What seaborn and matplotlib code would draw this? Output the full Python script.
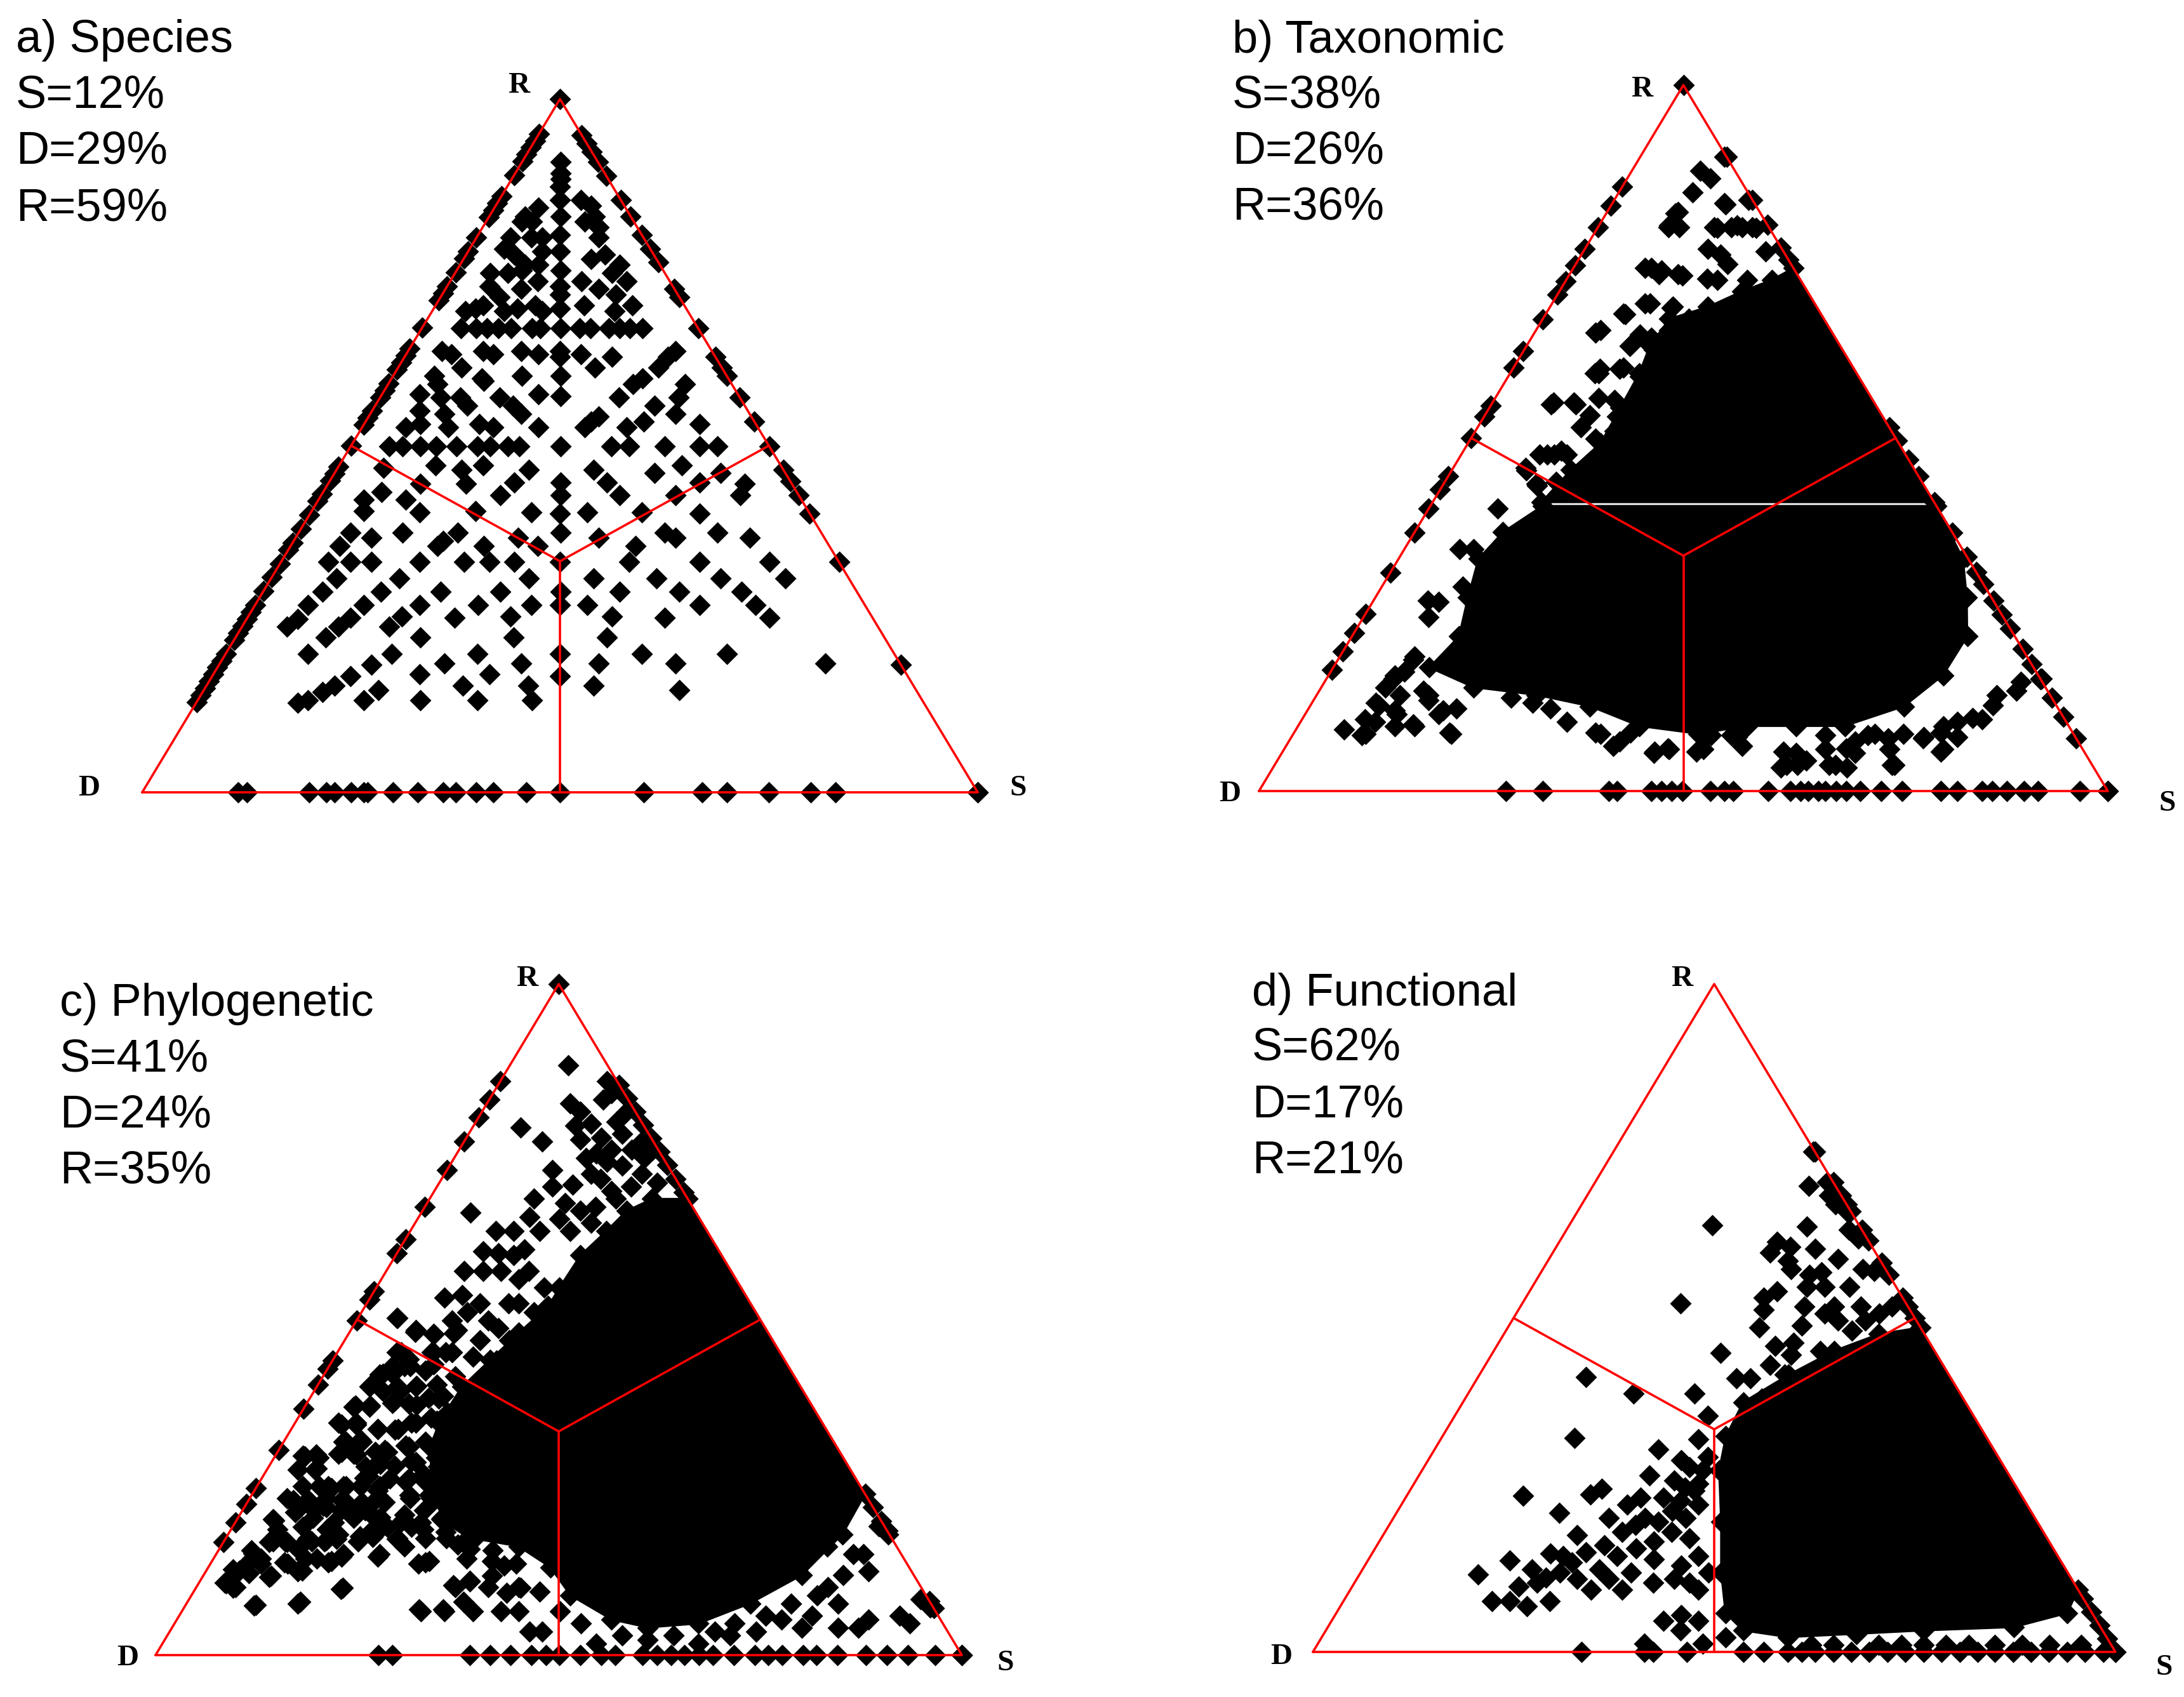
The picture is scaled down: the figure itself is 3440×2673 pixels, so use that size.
import numpy as np
import pandas as pd
import seaborn as sns
import matplotlib.pyplot as plt

sns.set_theme(style="white")
plt.rcParams['font.family'] = ['Liberation Sans', 'DejaVu Sans']

# ---------------- data (percent S, R; D = 100 - S - R) ----------------
titles = ["a) Species", "b) Taxonomic", "c) Phylogenetic", "d) Functional"]
summary_S = [12, 38, 41, 62]
summary_D = [29, 26, 24, 17]
summary_R = [59, 36, 35, 21]

# a) Species - interior points (S, R)
a_pts = [
    (4.6, 90.9), (5.4, 89.3), (5.8, 88.5), (6.3, 87.4), (7.3, 85.4), (8.5, 83.1), (9.8, 80.4), (11.0, 78.0),
    (12.4, 75.3), (13.5, 73.0), (14.1, 71.8), (15.1, 69.8), (16.6, 66.9), (18.2, 63.6), (18.6, 62.8), (20.0, 60.1),
    (21.5, 57.1), (25.1, 49.9), (27.7, 44.7), (28.6, 42.9), (29.9, 40.2), (31.3, 37.5), (33.4, 33.2), (35.6, 28.9),
    (36.5, 27.0), (40.0, 20.0), (41.6, 16.8),
    (9.8, 85.4), (11.4, 84.6), (5.3, 84.3), (4.3, 83.1), (4.3, 82.3), (5.5, 82.3), (11.8, 82.3), (12.6, 83.1),
    (13.9, 81.5), (6.6, 80.0), (7.9, 80.0), (4.1, 80.0), (14.6, 80.0), (16.6, 77.6), (4.1, 78.4), (5.7, 77.6),
    (8.9, 78.0), (7.8, 76.1), (9.4, 76.1), (15.3, 76.9), (19.1, 76.1), (4.2, 74.9), (6.3, 74.9), (7.8, 75.3),
    (10.5, 73.7), (15.7, 73.7), (21.1, 73.7), (18.8, 74.9), (5.1, 73.0), (9.1, 72.6), (18.3, 72.6), (5.7, 70.2),
    (7.1, 71.4), (4.0, 69.4), (5.0, 69.8), (8.6, 69.4), (10.0, 69.8), (11.9, 70.2), (13.2, 69.4), (17.8, 70.2),
    (21.8, 69.4), (23.6, 70.2), (20.8, 71.8),
    (4.7, 66.9), (6.5, 66.9), (7.8, 66.9), (9.2, 66.9), (10.7, 66.9), (13.2, 66.9), (14.2, 66.9), (18.9, 66.9),
    (20.2, 66.9), (22.4, 66.9), (23.7, 66.9), (24.9, 66.9), (26.4, 66.9),
    (4.1, 63.6), (5.4, 63.2), (7.6, 61.3), (9.0, 63.6), (10.4, 63.2), (13.6, 63.6), (15.8, 63.2), (20.9, 63.2),
    (24.8, 62.8), (32.0, 63.6), (31.5, 62.8), (31.1, 61.3), (23.5, 61.3), (15.4, 60.1), (10.8, 59.7), (4.9, 60.1),
    (5.9, 58.9),
    (4.5, 57.4), (7.2, 57.0), (9.6, 57.0), (11.0, 55.8), (11.2, 59.3), (14.3, 57.0), (16.5, 55.8), (18.1, 54.6),
    (18.7, 57.4), (21.1, 52.7), (26.6, 52.7), (27.0, 53.5), (27.5, 54.2), (28.6, 57.0), (29.3, 58.9), (30.0, 59.7),
    (33.4, 55.8), (36.5, 54.6), (35.7, 57.0), (35.5, 58.9), (5.2, 52.7), (6.7, 53.1), (5.7, 55.0), (10.3, 52.7),
    (8.9, 54.6), (13.8, 53.1), (15.7, 52.7), (31.6, 52.7), (33.3, 53.5), (40.2, 53.1),
    (4.6, 49.9), (6.2, 49.9), (8.3, 49.9), (10.2, 49.9), (12.7, 49.9), (15.2, 49.9), (16.7, 49.9), (18.8, 49.9),
    (20.2, 49.9), (31.2, 49.9), (33.3, 49.9), (37.6, 49.9), (41.8, 49.9), (43.9, 49.9),
    (5.5, 46.8), (11.5, 47.2), (15.0, 46.5), (17.2, 47.2), (23.0, 46.5), (30.8, 46.5), (38.3, 46.1), (41.0, 47.2),
    (44.4, 44.7), (46.2, 46.1), (49.9, 44.5), (50.1, 42.9), (7.0, 43.3), (5.4, 42.2), (6.2, 40.6), (10.4, 42.2),
    (11.0, 44.5), (16.5, 44.5), (21.4, 42.9), (22.2, 44.7), (33.3, 44.7), (35.7, 42.9), (42.4, 42.9), (46.6, 40.2),
    (39.6, 40.4), (33.1, 40.4), (26.4, 40.4), (19.6, 40.6), (13.0, 40.4),
    (6.2, 37.5), (9.1, 36.7), (12.4, 37.5), (17.6, 35.5), (17.9, 36.3), (19.0, 37.5), (23.1, 35.5), (26.6, 36.7),
    (29.6, 35.5), (36.3, 36.7), (41.3, 35.5), (43.8, 37.5), (45.5, 36.7), (50.1, 37.5), (54.4, 36.7), (5.7, 33.2),
    (8.3, 33.2), (10.8, 33.2), (5.9, 35.5), (16.6, 33.2), (21.9, 33.2), (25.0, 33.2), (27.9, 33.2), (41.7, 33.2),
    (50.1, 33.2), (58.5, 33.2),
    (7.8, 30.9), (15.3, 30.9), (30.8, 30.9), (38.6, 30.9), (46.1, 30.9), (53.8, 30.9), (61.5, 30.9), (7.1, 28.9),
    (14.1, 28.9), (21.3, 28.9), (28.4, 28.9), (42.7, 28.9), (49.8, 28.9), (57.3, 28.9), (6.3, 27.0), (13.0, 27.0),
    (19.7, 27.0), (26.7, 27.0), (33.1, 27.0), (39.8, 27.0), (53.2, 27.0), (59.9, 27.0), (5.4, 23.9), (6.1, 25.0),
    (10.8, 22.3), (11.5, 23.9), (12.3, 25.2), (17.6, 23.9), (18.4, 25.4), (24.8, 25.2), (31.4, 25.4), (43.5, 25.4),
    (49.9, 25.2), (62.5, 25.2), (22.1, 22.3), (33.3, 22.3), (44.5, 22.3),
    (9.8, 20.0), (19.9, 20.0), (30.1, 20.0), (49.8, 20.0), (60.0, 20.0), (72.5, 18.6), (18.2, 18.4), (26.9, 18.6),
    (36.1, 18.6), (45.3, 18.6), (54.5, 18.6), (16.5, 16.8), (24.7, 17.0), (33.1, 17.0), (15.3, 15.4), (14.3, 14.5),
    (20.9, 14.7), (30.7, 15.4), (38.5, 15.4), (46.3, 15.4), (56.9, 14.7), (12.2, 12.9), (13.2, 13.3), (19.9, 13.3),
    (26.6, 13.3), (33.5, 13.3), (40.0, 13.3),
]
a_left_R = [13, 14, 15, 16, 17, 18, 19, 20, 22, 23, 24, 25, 26, 27, 29, 31, 33, 35, 36, 38, 40, 42, 43, 45, 46,
            47, 50, 53, 54, 55, 57, 58, 59, 61, 62, 63, 64, 67, 71, 72, 73, 75, 77, 78, 80, 83, 84, 85, 86, 89,
            91, 92, 93, 94, 95, 100]
a_right_R = [94.8, 93.6, 92.4, 90.9, 88.9, 85.4, 83.1, 80.4, 78.4, 76.5, 72.6, 71.4, 66.9, 62.8, 61.3, 60.1,
             57.0, 53.5, 49.9, 46.5, 44.9, 42.9, 40.2, 33.2, 18.4, 0]
a_bottom_S = [11.5, 12.5, 20, 22, 23, 25, 26.5, 27, 30, 33, 36, 37.5, 40, 42, 46, 50, 60, 67, 70, 75, 80, 83, 100]
a_dense = []

# b) Taxonomic
b_pts = [
    (9.9, 89.8), (8.0, 87.9), (9.8, 86.8), (8.7, 84.8), (13.2, 83.3), (15.8, 83.7), (8.2, 81.8), (8.3, 79.9),
    (9.6, 79.9), (13.7, 79.9), (15.7, 79.9), (17.0, 79.9), (18.2, 79.9), (16.4, 76.0), (21.5, 76.4), (9.2, 74.1),
    (10.6, 73.7), (13.4, 73.0), (16.5, 72.6), (10.9, 69.1), (14.4, 68.4), (9.1, 67.6), (7.2, 64.9), (12.2, 63.0),
    (14.1, 64.2), (12.9, 60.0), (10.4, 59.2), (7.2, 55.0), (9.6, 55.0), (12.2, 55.7), (15.6, 53.1), (9.2, 47.7),
    (10.9, 47.7), (8.5, 45.8), (10.9, 43.5), (8.1, 40.0), (6.5, 34.3), (8.1, 34.3), (11.5, 33.2), (6.4, 27.0),
    (8.9, 18.6), (7.9, 15.9), (9.8, 13.6), (13.5, 12.9), (8.1, 12.1), (7.4, 10.2), (5.7, 8.7), (8.2, 7.9),
    (8.8, 9.8), (10.8, 10.9), (13.5, 9.4), (18.3, 8.3), (15.7, 10.9), (17.4, 11.7), (23.1, 13.2), (26.0, 12.5),
    (28.5, 11.7), (31.4, 9.8), (35.5, 8.3), (38.5, 6.4), (39.6, 8.3), (43.8, 5.6), (45.2, 6.0), (48.7, 5.6),
    (49.3, 7.9), (53.7, 6.4), (51.7, 7.9), (59.0, 5.6), (59.8, 3.3), (61.6, 3.7), (65.3, 3.7), (67.6, 3.3),
    (66.2, 6.0), (62.8, 7.9), (67.8, 7.9), (70.4, 7.5), (72.7, 3.7), (74.5, 7.5), (76.2, 8.3), (77.5, 5.6),
    (77.4, 9.8), (80.1, 10.2), (80.4, 12.1), (82.0, 15.5), (84.3, 15.9),
    (60.3, 3.7), (60.6, 5.4), (66.1, 3.7), (67.5, 5.4), (73.0, 3.7), (74.5, 7.6), (77.7, 5.9), (78.5, 7.6),
    (78.9, 10.3), (80.1, 13.6), (82.1, 14.2), (84.2, 15.8), (7.5, 12.5), (10.3, 11.4), (13.7, 9.2), (18.6, 8.1),
    (13.2, 13.6), (7.8, 16.4), (8.8, 19.1), (7.7, 24.6), (7.8, 26.8), (9.5, 29.0), (7.0, 54.8), (9.9, 54.8),
    (10.0, 59.2), (7.6, 65.3), (9.4, 67.5), (10.1, 47.7), (11.5, 48.2), (8.8, 45.4), (11.1, 43.3),
    (8.4, 74.1), (10.5, 73.2), (12.8, 73.2), (11.5, 69.1), (14.5, 68.6), (12.5, 64.7), (15.7, 65.3), (17.2, 66.9),
    (12.2, 63.1), (15.3, 62.5), (12.6, 59.8), (15.5, 58.7), (17.0, 60.3), (10.3, 59.8), (12.4, 53.2), (14.2, 55.4),
    (17.1, 54.3), (12.2, 51.5), (14.7, 49.9), (16.4, 51.0), (12.4, 47.7), (15.7, 46.6), (17.8, 47.1), (13.1, 43.8),
    (15.1, 44.4), (17.4, 44.4), (19.8, 45.5), (8.3, 80.1), (14.1, 79.8), (16.3, 80.1), (18.7, 79.8), (13.4, 83.1),
    (8.4, 82.0), (14.5, 76.8), (17.9, 74.6), (21.3, 72.4), (17.8, 72.4),
    (36.2, 8.1), (39.0, 7.0), (43.8, 5.4), (45.4, 5.9), (49.4, 5.9), (48.9, 8.1), (52.5, 7.6), (62.3, 4.3),
    (63.8, 5.9), (66.7, 7.0), (68.5, 8.1), (71.3, 5.9), (71.9, 8.1), (76.0, 9.2),
    (7.5, 14.7), (8.7, 16.9), (12.3, 14.2), (16.0, 11.4), (11.4, 9.2), (8.5, 8.1),
]
b_left_R = [85.6, 82.9, 79.9, 76.8, 74.5, 72.2, 70.3, 66.8, 62.3, 60.0, 54.6, 53.1, 50.0, 44.6, 42.7, 40.0,
            36.6, 30.9, 25.1, 22.4, 19.8, 17.2, 100]
b_right_R = [89.8, 83.7, 80.2, 77.0, 75.3, 51.5, 49.6, 46.9, 44.6, 36.6, 33.2, 31.0, 29.3, 27.0, 25.0, 23.0,
             20.1, 18.0, 15.9, 13.2, 10.5, 7.5, 0]
b_bottom_S = [29.1, 33.4, 41.2, 42.2, 46.2, 47.4, 48.6, 49.9, 53.2, 54.8, 55.9, 60.0, 62.6, 63.8, 64.7, 65.9,
              66.7, 68.0, 69.2, 70.8, 73.3, 75.8, 80.3, 82.3, 85.2, 86.4, 88.1, 90.1, 91.8, 96.7, 100]
# solid black parts of the cloud (outline, S, R)
b_dense = [
    [(25.9, 74.1), (59.1, 40.9), (12.8, 40.9), (14.0, 45.5), (15.6, 49.3), (15.4, 54.3), (15.2, 59.2),
     (14.5, 63.1), (14.9, 66.9), (18.6, 68.6), (21.5, 70.8), (24.2, 72.4)],
    [(59.6, 40.4), (66.5, 32.9), (69.7, 27.4), (72.5, 21.9), (72.4, 16.4), (70.0, 12.0), (64.4, 9.2),
     (58.7, 9.2), (52.9, 9.2), (47.7, 8.1), (40.2, 9.2), (33.0, 12.0), (25.9, 13.6), (17.9, 14.7),
     (11.3, 17.5), (12.6, 21.9), (10.9, 27.4), (9.4, 32.9), (10.4, 36.7), (13.2, 40.4)],
]

# c) Phylogenetic
c_pts = [
    (7.2, 87.9), (13.2, 85.5), (14.1, 82.8), (10.3, 82.2), (12.2, 81.0), (6.0, 78.6), (9.7, 76.5), (12.6, 78.9),
    (14.4, 79.2), (17.4, 79.5), (17.9, 81.0), (14.3, 76.8), (17.3, 74.7), (19.2, 73.5), (21.4, 75.3), (23.6, 74.1),
    (13.1, 72.3), (16.7, 70.1), (18.2, 71.7), (14.3, 69.8), (21.9, 69.2), (24.1, 69.8), (12.9, 68.0), (17.1, 67.4),
    (6.1, 65.9), (13.7, 65.3), (10.6, 63.2), (12.8, 63.2), (16.0, 63.2), (10.5, 60.2), (12.6, 59.9), (15.5, 60.5),
    (9.7, 57.2), (12.0, 57.2), (14.2, 57.2), (17.0, 56.0), (9.2, 53.3), (11.2, 53.6), (14.0, 52.4), (17.6, 52.4),
    (11.8, 49.9), (13.1, 51.1), (16.3, 49.9), (4.9, 50.2), (8.1, 48.4), (10.6, 47.8), (13.2, 48.4), (16.8, 46.9),
    (20.4, 46.9), (7.9, 45.1), (11.7, 45.1), (14.2, 45.1), (17.1, 44.5), (20.3, 43.9), (6.9, 41.8), (7.9, 43.0),
    (10.1, 43.0), (12.3, 42.4), (16.4, 41.5), (6.5, 40.0), (10.0, 40.0), (12.3, 40.0), (14.7, 40.3), (6.1, 37.0),
    (8.0, 37.0), (10.6, 37.6), (13.7, 37.3), (16.0, 38.2), (5.4, 34.6), (7.6, 34.6), (10.7, 33.7), (13.2, 33.7),
    (15.0, 34.6), (17.4, 34.9), (19.7, 35.5), (7.4, 31.8), (9.7, 31.8), (13.1, 30.6), (15.4, 31.2), (17.6, 31.8),
    (19.9, 32.4), (21.5, 33.1), (3.4, 29.7), (5.5, 29.4), (7.7, 30.0), (9.6, 30.0), (13.1, 28.2), (15.6, 28.2),
    (17.9, 28.8), (20.1, 29.4), (22.7, 29.4), (3.8, 27.6), (6.0, 27.6), (8.8, 25.2), (10.7, 25.2), (12.7, 26.4),
    (15.2, 25.2), (18.1, 25.8), (20.6, 25.8), (22.9, 26.4), (4.6, 23.4), (7.4, 23.1), (9.7, 22.2), (11.5, 23.1),
    (14.2, 22.8), (17.0, 22.8), (19.9, 23.4), (22.5, 23.4), (25.0, 23.4), (4.7, 20.1), (6.7, 21.3), (9.3, 20.4),
    (12.2, 19.8), (14.4, 20.4), (17.0, 20.4), (20.5, 19.8), (23.0, 19.8), (25.3, 20.4), (28.1, 19.8), (4.1, 15.6),
    (5.7, 16.8), (7.9, 16.8), (10.2, 17.4), (12.6, 17.1), (13.7, 18.0), (16.5, 17.7), (18.2, 18.0), (21.3, 17.4),
    (24.8, 17.4), (27.4, 17.4), (30.8, 17.1), (34.0, 15.6), (3.2, 12.8), (4.6, 13.8), (5.9, 14.4), (9.1, 13.8),
    (11.4, 14.4), (14.5, 13.8), (15.8, 15.0), (20.3, 15.0), (26.6, 13.8), (31.4, 14.4), (3.4, 10.7), (4.9, 10.1),
    (8.3, 11.6), (11.4, 12.5), (18.1, 9.8), (8.5, 7.4), (13.8, 7.7), (29.7, 6.5), (32.6, 6.5), (32.1, 10.1),
    (33.5, 11.0), (36.2, 10.1), (39.6, 6.5), (36.1, 6.5), (41.8, 6.5), (40.0, 10.1), (42.9, 9.5), (44.6, 3.5),
    (46.2, 3.5), (46.9, 6.5),
    (80.1, 19.2), (81.9, 18.0), (80.3, 15.0), (82.2, 12.5), (78.3, 10.1), (80.8, 7.7), (78.5, 5.9), (75.0, 5.3),
    (78.1, 4.1), (72.7, 3.5), (69.8, 2.9), (90.7, 8.3), (92.5, 7.1), (89.3, 5.9), (91.2, 4.7), (85.8, 5.3),
    (85.1, 4.1), (82.6, 4.1),
    (50.4, 4.7), (53.8, 1.7), (56.4, 2.9), (59.9, 2.3), (62.8, 2.9), (66.5, 1.7), (67.6, 3.5), (69.5, 4.7),
    (72.7, 5.9), (75.0, 7.7), (77.6, 8.9), (79.3, 11.9), (79.0, 15.0), (75.2, 16.2),
    (14.7, 83.7), (19.0, 77.7), (16.7, 77.1), (18.9, 75.3), (22.1, 76.5), (24.0, 75.3), (16.3, 74.1), (19.7, 71.0),
    (21.4, 72.9), (24.5, 71.7), (27.0, 70.4), (23.1, 68.0), (21.2, 66.8), (19.6, 66.2), (17.6, 65.0), (19.8, 63.2),
    (21.8, 64.4), (14.6, 59.6), (17.7, 57.2), (20.8, 54.8), (18.8, 52.4), (21.4, 51.1), (18.2, 48.7), (21.0, 48.1),
    (22.5, 43.9), (20.5, 41.5), (20.4, 39.1), (19.7, 37.9),
    # left lobe, read from a closer view
    (4.8, 50.2), (8.1, 48.2), (10.5, 47.9), (13.0, 48.0), (7.4, 45.1), (9.4, 44.1), (9.4, 43.0), (7.2, 41.9),
    (8.4, 41.9), (11.9, 45.1), (13.4, 45.1), (12.8, 43.3), (6.6, 40.1), (8.5, 39.4), (10.6, 39.4), (12.3, 40.1),
    (6.2, 37.2), (8.0, 37.2), (10.7, 37.9), (12.7, 37.5), (14.7, 38.3), (16.4, 38.6), (5.9, 34.3), (7.7, 34.3),
    (10.7, 33.7), (12.9, 33.6), (14.4, 34.6), (16.5, 35.4), (18.2, 36.1), (7.7, 31.8), (9.4, 32.1), (7.9, 30.3),
    (9.9, 29.9), (12.1, 30.3), (13.6, 30.3), (15.9, 31.0), (17.3, 28.9), (19.9, 31.0), (21.7, 30.3), (3.7, 29.6),
    (5.0, 29.9), (6.1, 27.8), (12.0, 28.1), (13.6, 28.5), (13.0, 26.7), (15.9, 26.3), (18.3, 26.3), (19.7, 27.0),
    (21.0, 28.1), (5.7, 25.2), (7.7, 25.2), (9.4, 24.9), (11.0, 25.2), (12.8, 25.2), (15.3, 24.5), (5.5, 23.1),
    (7.3, 23.1), (9.5, 23.4), (11.8, 23.1), (14.3, 22.3), (15.7, 23.1), (19.6, 23.8), (22.0, 23.8), (23.2, 24.9),
    (6.6, 22.0), (8.9, 21.6), (10.2, 22.0), (12.2, 21.6), (13.6, 21.3), (15.2, 21.6), (17.6, 20.5), (20.4, 20.9),
    (22.5, 21.6), (25.3, 20.2), (27.2, 20.5), (4.5, 20.2), (5.8, 18.7), (8.7, 19.1), (11.9, 18.7), (17.6, 18.7),
    (19.2, 19.1), (22.2, 19.1), (23.9, 18.7), (6.1, 16.9), (7.6, 16.9), (9.7, 15.8), (10.9, 16.9), (12.5, 16.9),
    (13.8, 17.3), (16.7, 16.9), (18.1, 17.6), (21.3, 17.3), (22.8, 16.2), (26.8, 18.4), (29.2, 16.5), (31.1, 15.8),
    (4.6, 15.1), (6.3, 13.6), (4.1, 12.6), (5.5, 12.2), (8.4, 11.8), (9.6, 13.6), (11.9, 12.6), (12.8, 14.4),
    (14.8, 14.0), (15.7, 14.7), (20.2, 14.7), (25.8, 13.6), (26.9, 14.0), (34.7, 14.0), (36.6, 13.3), (37.9, 13.6),
    (3.2, 10.8), (4.6, 10.0), (8.7, 7.5), (14.0, 7.9), (18.2, 10.0), (31.7, 10.4), (33.4, 11.1), (35.8, 11.8),
    (38.9, 9.3), (40.3, 10.0), (29.3, 6.8), (32.3, 6.8), (34.2, 7.9),
]
c_left_R = [85.5, 82.8, 80.1, 76.5, 72.3, 66.8, 62.0, 59.9, 54.2, 53.0, 49.9, 43.9, 42.7, 40.3, 36.7, 30.6,
            24.9, 22.5, 19.8, 16.8, 100]
c_right_R = [85, 83, 81, 79, 77, 75, 73, 71, 69, 22, 20, 18.5, 8, 7, 0]
c_bottom_S = [27.6, 29.4, 39.0, 41.5, 44.0, 46.6, 48.4, 50.1, 52.7, 55.3, 57.0, 60.4, 62.2, 63.9, 65.6, 67.4,
              69.1, 71.7, 74.3, 76.0, 77.7, 80.3, 82.0, 84.6, 88.1, 90.7, 93.3, 96.7, 100]
c_dense = [
    [(27.6, 68.0), (32.0, 68.0), (76.0, 24.0), (76.2, 18.0), (74.2, 11.9), (69.9, 7.7), (65.0, 4.7),
     (59.0, 4.1), (53.9, 5.3), (47.0, 8.9), (42.4, 13.1), (36.9, 16.2), (30.0, 17.5), (26.5, 19.5),
     (23.0, 23.0), (21.0, 26.5), (18.5, 31.0), (17.8, 35.0), (18.0, 40.0), (19.5, 44.0), (21.0, 48.0),
     (22.7, 52.0), (22.7, 54.8), (22.9, 59.6), (24.3, 63.2), (25.3, 66.2)],
]

# d) Functional
d_pts = [
    (24.9, 74.9), (26.9, 69.8), (28.9, 70.3), (30.2, 68.3), (31.6, 67.0), (33.5, 66.0), (17.8, 63.9), (29.7, 63.7),
    (35.2, 63.2), (37.0, 61.9), (27.1, 61.4), (27.1, 59.8), (29.2, 60.6), (32.4, 60.4), (36.0, 58.8), (29.9, 58.6),
    (30.9, 57.3), (33.6, 56.5), (35.0, 56.8), (39.9, 57.3), (41.4, 57.0), (34.2, 54.7), (36.4, 54.7), (39.5, 54.7),
    (30.8, 54.0), (29.7, 53.0), (30.6, 51.2), (19.7, 52.2), (35.4, 51.7), (38.4, 50.7), (39.1, 51.7), (42.4, 51.7),
    (45.2, 50.7), (46.3, 51.7), (31.3, 48.6), (36.5, 48.9), (40.6, 49.6), (43.1, 48.1), (44.0, 49.6), (28.4, 44.8),
    (34.7, 45.8), (36.7, 46.3), (37.3, 44.5), (40.7, 45.1), (35.5, 43.0), (38.0, 41.5), (32.3, 41.0), (34.0, 41.0),
    (28.2, 38.7), (37.0, 37.9), (31.5, 35.4), (13.4, 41.2), (20.6, 38.7), (16.6, 32.0), (27.9, 30.3), (32.1, 31.8),
    (31.5, 28.7), (33.1, 27.7), (28.7, 26.4), (32.2, 25.7), (22.8, 23.6), (23.8, 24.4), (14.5, 23.4), (20.3, 20.8),
    (26.8, 20.1), (28.1, 22.1), (29.3, 23.1), (32.1, 23.1), (34.1, 24.6), (35.4, 25.2), (24.2, 17.5), (24.0, 14.4),
    (22.2, 14.7), (17.7, 13.7), (14.8, 11.6), (21.1, 12.4), (20.7, 9.8), (23.5, 11.1), (24.8, 11.9), (27.5, 10.9),
    (30.0, 9.3), (31.4, 10.9), (30.7, 14.4), (32.5, 15.5), (34.2, 16.5), (35.7, 18.0), (36.4, 20.1), (37.0, 22.1),
    (18.5, 7.6), (20.7, 7.6), (23.3, 6.8), (25.7, 7.6), (37.2, 10.4), (39.6, 10.9), (41.7, 10.4), (41.3, 4.7),
    (43.1, 5.5), (45.7, 4.7), (44.2, 3.2), (40.7, 1.2), (48.0, 1.2), (50.3, 2.2),
    (22.7, 10.4), (25.6, 13.4), (26.6, 14.9), (28.3, 16.0), (29.5, 18.0), (30.7, 19.0), (31.3, 20.1), (33.3, 19.5),
    (34.2, 21.1), (34.5, 22.6), (35.5, 24.1), (35.0, 27.2), (34.6, 29.2), (38.4, 17.0), (40.8, 14.4), (43.3, 11.9),
    (43.4, 9.3), (39.4, 12.9), (35.5, 13.9), (33.7, 11.9), (33.9, 9.3), (29.5, 12.4),
    (61.6, 1.0), (64.4, 1.0), (70.0, 1.0), (72.8, 1.0), (75.6, 1.0), (78.4, 1.0), (81.2, 1.0), (84.5, 1.0),
    (87.9, 1.0), (91.3, 1.0), (95.2, 1.0),
]
d_left_R = []
d_right_R = [74.9, 70.3, 68.3, 67.0, 66.0, 63.2, 61.6, 58.3, 56.5, 53.0, 51.7, 50.0, 8, 6, 4, 2, 0]
d_bottom_S = [33.5, 41.3, 42.4, 46.6, 53.6, 56.2, 59.2, 60.9, 62.6, 64.9, 67.1, 69.3, 71.6, 73.8, 76.1, 78.3,
              80.6, 82.8, 85.0, 87.3, 89.5, 91.7, 94.0, 96.2, 98.5, 100]
d_dense = [
    [(34.9, 37.4), (38.5, 41.5), (42.4, 45.1), (46.7, 47.6), (51.4, 48.6), (90.7, 9.3), (91.1, 5.8),
     (85.5, 3.7), (74.5, 3.2), (66.4, 2.7), (58.1, 2.2), (52.0, 3.2), (48.5, 5.8), (44.9, 11.9),
     (41.1, 19.5), (37.0, 27.2), (35.3, 32.3)],
]

# ---------------- layout (pixels in the 3440x2673 canvas) ----------------
W, H = 3440, 2673
# triangle: D-x, baseline y, S-x, apex y
tri_box = [(224, 1248, 1540, 156), (1983, 1246, 3320, 134), (245, 2607, 1515, 1550), (2068, 2602, 3332, 1550)]
title_pos = [(25, [82, 170, 258, 347]), (1941, [83, 170, 257, 345]),
             (94, [1600, 1687, 1776, 1864]), (1972, [1584, 1670, 1759, 1847])]
vertex_pos = [
    {"R": (817, 146), "D": (140, 1253), "S": (1604, 1253)},
    {"R": (2586, 152), "D": (1937, 1262), "S": (3414, 1277)},
    {"R": (830, 1553), "D": (201, 2623), "S": (1584, 2631)},
    {"R": (2649, 1553), "D": (2018, 2621), "S": (3409, 2638)},
]

panels = [
    (a_pts, a_left_R, a_right_R, a_bottom_S, a_dense),
    (b_pts, b_left_R, b_right_R, b_bottom_S, b_dense),
    (c_pts, c_left_R, c_right_R, c_bottom_S, c_dense),
    (d_pts, d_left_R, d_right_R, d_bottom_S, d_dense),
]


def ternary_xy(S, R):
    S = np.asarray(S, dtype=float) / 100
    R = np.asarray(R, dtype=float) / 100
    return S + R / 2, R


def panel_frame(pts, left_R, right_R, bottom_S, dense):
    rows = list(pts)
    rows += [(0.0, r) for r in left_R]
    rows += [(100.0 - r, r) for r in right_R]
    rows += [(s, 0.0) for s in bottom_S]
    for poly in dense:          # outline samples give the cloud its ragged edge
        rows += list(poly)
    df = pd.DataFrame(rows, columns=["S", "R"])
    df["D"] = 100 - df["S"] - df["R"]
    df["x"], df["y"] = ternary_xy(df["S"], df["R"])
    return df


fig = plt.figure(figsize=(W / 100, H / 100), dpi=100)
red = "#ff0000"

for i, (pts, lR, rR, bS, dense) in enumerate(panels):
    x0, yb, x1, ytop = tri_box[i]
    ax = fig.add_axes([x0 / W, 1 - yb / H, (x1 - x0) / W, (yb - ytop) / H])
    ax.set_xlim(0, 1)
    ax.set_ylim(0, 1)
    ax.axis("off")

    for poly in dense:
        px, py = ternary_xy([p[0] for p in poly], [p[1] for p in poly])
        ax.fill(px, py, color="black", lw=2, zorder=2)

    df = panel_frame(pts, lR, rR, bS, dense)
    sns.scatterplot(data=df, x="x", y="y", marker="D", s=300, color="black",
                    linewidth=0, ax=ax, clip_on=False, legend=False, zorder=3)

    # triangle outline and centroid dividers
    ax.plot([0, 1, 0.5, 0], [0, 0, 1, 0], color=red, lw=2.6, clip_on=False, zorder=4)
    cx, cy = 0.5, 1 / 3
    for ex, ey in [(0.5, 0.0), (0.25, 0.5), (0.75, 0.5)]:
        ax.plot([cx, ex], [cy, ey], color=red, lw=2.6, clip_on=False, zorder=4)

    ax.set_xlabel("")
    ax.set_ylabel("")

    tx, tys = title_pos[i]
    lines = [titles[i], f"S={summary_S[i]}%", f"D={summary_D[i]}%", f"R={summary_R[i]}%"]
    for txt, ty in zip(lines, tys):
        fig.text(tx / W, 1 - ty / H, txt, fontsize=52, ha="left", va="baseline", color="black")

    for lab, (vx, vy) in vertex_pos[i].items():
        fig.text(vx / W, 1 - vy / H, lab, fontsize=34, ha="center", va="baseline",
                 family=["Liberation Serif", "DejaVu Serif"], fontweight="bold", color="black")

fig.savefig("out.png", dpi=100, facecolor="white")
